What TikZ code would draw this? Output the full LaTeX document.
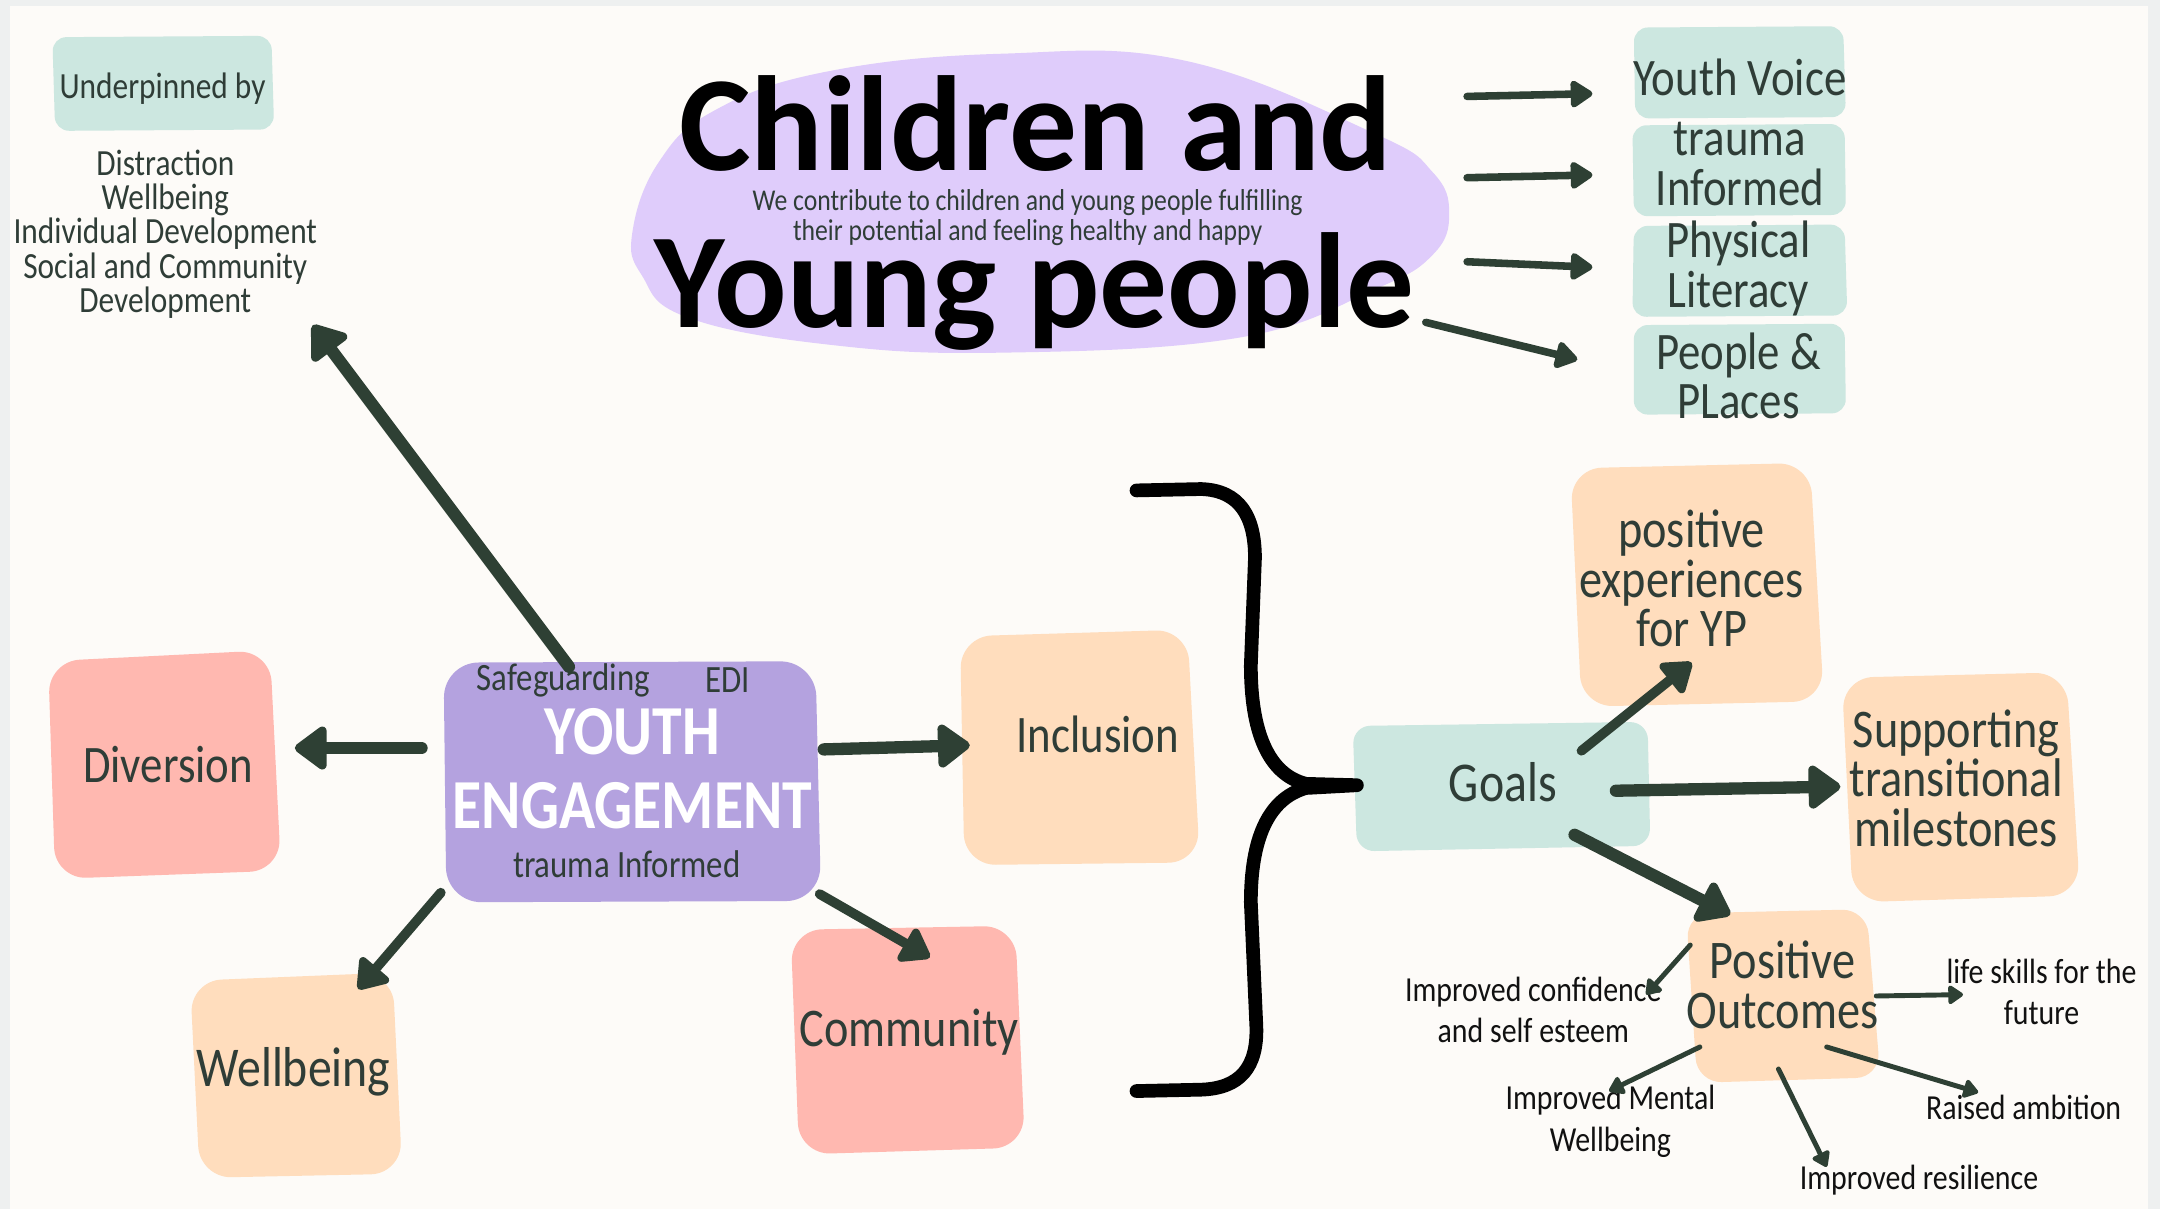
\documentclass[tikz,border=0pt]{standalone}
\usepackage{fontspec}
\usetikzlibrary{arrows.meta}
\setmainfont{Carlito}
\newfontfamily\hand[FakeStretch=0.85]{Carlito}
\newfontfamily\titlefont{Carlito}
\newcommand{\setfsz}[2]{\fontsize{#1}{#2}\selectfont}
\definecolor{bgc}{HTML}{FDFBF8}
\definecolor{edgec}{HTML}{EEF0F0}
\definecolor{tealc}{HTML}{CCE7E0}
\definecolor{lilac}{HTML}{DFCCFB}
\definecolor{purp}{HTML}{B4A2DF}
\definecolor{pinkc}{HTML}{FFB8B0}
\definecolor{peach}{HTML}{FFDDBD}
\definecolor{dk}{HTML}{2E4034}
\definecolor{ink}{HTML}{2F3D37}
\definecolor{blk}{HTML}{111111}
\tikzset{
  hnd/.style={text=ink, inner sep=0pt, align=center},
  lbl/.style={text=blk, inner sep=0pt, align=center, font=\hand\setfsz{10}{11.8}},
  boxtxt/.style={hnd, font=\hand\setfsz{15.5}{14.1}},
  coltxt/.style={hnd, font=\hand\setfsz{15}{14.1}},
  arrtop/.style={draw=dk, line width=2.15pt, -{Triangle[length=7pt,width=8.6pt,round]}},
  arrbig/.style={draw=dk, line width=3.5pt, -{Triangle[length=10pt,width=14pt,round]}},
  arrmid/.style={draw=dk, line width=2.75pt, -{Triangle[length=9pt,width=12pt,round]}},
  arrsm/.style={draw=dk, line width=1.4pt, -{Triangle[length=4.7pt,width=6pt,round]}},
}
\begin{document}
\begin{tikzpicture}[x=0.013776cm,y=-0.013776cm,line cap=round,line join=round]
\useasboundingbox (0,0) rectangle (1568,877.6);
\fill[edgec] (0,0) rectangle (1568,877.6);
\fill[bgc] (7,4) rectangle (1559,877.6);

% ---- shapes ----
\fill[tealc, rounded corners=4pt] (38,27) -- (197,26) -- (199,94) -- (40,95) -- cycle;
\fill[lilac] plot[smooth cycle, tension=0.7] coordinates {(459,169) (478,118) (519,80) (600,52) (727,39) (860,44) (998,97) (1040,125) (1052,155) (1040,185) (998,210) (900,245) (727,256) (600,250) (498,230) (466,200)};
\fill[tealc, rounded corners=4pt] (1186,20) -- (1338,19) -- (1340,85) -- (1187,86) -- cycle;
\fill[tealc, rounded corners=4pt] (1185,91) -- (1339,90) -- (1340,156) -- (1186,157) -- cycle;
\fill[tealc, rounded corners=4pt] (1186,164) -- (1339,163) -- (1341,229) -- (1185,230) -- cycle;
\fill[tealc, rounded corners=4pt] (1186,236) -- (1339,235) -- (1340,300) -- (1186,301) -- cycle;
\fill[purp, rounded corners=10pt] (322,481) -- (592,480) -- (596,654) -- (324,655) -- cycle;
\fill[pinkc, rounded corners=9pt] (35,480) -- (196,472) -- (204,632) -- (40,638) -- cycle;
\fill[peach, rounded corners=9pt] (697,462) -- (862,457) -- (871,626) -- (700,628) -- cycle;
\fill[peach, rounded corners=9pt] (138,712) -- (285,706) -- (292,852) -- (145,855) -- cycle;
\fill[pinkc, rounded corners=9pt] (574,675) -- (737,672) -- (744,833) -- (580,838) -- cycle;
\fill[tealc, rounded corners=5pt] (982,527) -- (1196,524) -- (1198,614) -- (985,618) -- cycle;
\fill[peach, rounded corners=9pt] (1140,340) -- (1314,336) -- (1324,509) -- (1148,513) -- cycle;
\fill[peach, rounded corners=9pt] (1337,492) -- (1500,488) -- (1510,650) -- (1345,655) -- cycle;
\fill[peach, rounded corners=7pt] (1224,663) -- (1355,660) -- (1365,782) -- (1232,786) -- cycle;

% ---- brace ----
\draw[black, line width=3.9pt] (825,356) -- (872,355) .. controls (900,356) and (911,375) .. (911,405)
  -- (908,483) .. controls (908,530) and (920,562) .. (948,569) -- (985,570) -- (948,572)
  .. controls (920,580) and (908,610) .. (908,655) -- (912,745)
  .. controls (913,775) and (900,790) .. (872,791) -- (825,792);

% ---- texts ----
\node[hnd, font=\hand\setfsz{10.5}{10}] (und) at (118,64) {Underpinned by};
\node[hnd, font=\hand\setfsz{10.5}{9.8}] (lst) at (120,170) {Distraction\\Wellbeing\\Individual Development\\Social and Community\\Development};
\node[text=black, inner sep=0pt, anchor=base, font=\titlefont\bfseries\setfsz{38.5}{40}] (t1) at (752,124) {Children and};
\node[text=black, inner sep=0pt, anchor=base, font=\titlefont\bfseries\setfsz{38.5}{40}] (t2) at (751,238) {Young people};
\node[hnd, font=\hand\setfsz{8.6}{7.4}] (sub) at (746,158) {We contribute to children and young people fulfilling\\their potential and feeling healthy and happy};
\node[coltxt] (yv) at (1263,56) {Youth Voice};
\node[coltxt] (ti) at (1263,119) {trauma\\Informed};
\node[coltxt] (pl) at (1262,195) {Physical\\Literacy};
\node[coltxt] (pp) at (1262,273) {People \&\\PLaces};

\node[hnd, text=white, font=\hand\bfseries\setfsz{20}{20.8}] (ye) at (459,558) {YOUTH\\ENGAGEMENT};
\node[hnd, font=\hand\setfsz{11}{11}] (sg) at (409,494) {Safeguarding};
\node[hnd, font=\hand\setfsz{11}{11}] (edi) at (528,494) {EDI};
\node[hnd, font=\hand\setfsz{11}{11}] (tri) at (455,627) {trauma Informed};

\node[boxtxt, font=\hand\setfsz{15}{14}] (div) at (122,555) {Diversion};
\node[boxtxt, font=\hand\setfsz{15}{14}] (inc) at (797,533) {Inclusion};
\node[boxtxt, font=\hand\setfsz{16}{14}] (wb) at (213,778) {Wellbeing};
\node[boxtxt] (com) at (660,749) {Community};
\node[boxtxt, font=\hand\setfsz{16}{14}] (goals) at (1091,568) {Goals};
\node[boxtxt] (pe) at (1228,420) {positive\\experiences\\for YP};
\node[boxtxt] (st) at (1420,565) {Supporting\\transitional\\milestones};
\node[boxtxt] (po) at (1294,715) {Positive\\Outcomes};

\node[lbl] (oc) at (1113,733) {Improved confidence\\and self esteem};
\node[lbl] (ls) at (1482,720) {life skills for the\\future};
\node[lbl] (mw) at (1169,814) {Improved Mental\\Wellbeing};
\node[lbl] (ra) at (1469,804) {Raised ambition};
\node[lbl] (rs) at (1393,857) {Improved resilience};

% ---- arrows ----
\draw[arrtop] ([shift={(313,-54)}]t1.base) -- ([shift={(-107,12)}]yv.center);
\draw[arrtop] ([shift={(313,5)}]t1.base) -- ([shift={(-107,8)}]ti.center);
\draw[arrtop] ([shift={(314,-48)}]t2.base) -- ([shift={(-106,-1)}]pl.center);
\draw[arrtop] ([shift={(284,-4)}]t2.base) -- ([shift={(-117,-12)}]pp.center);

\draw[arrbig] ([shift={(-153,-15)}]ye.center) -- ([shift={(92,-12)}]div.center);
\draw[arrbig] ([shift={(139,-14)}]ye.center) -- ([shift={(-93,8)}]inc.center);
\draw[arrmid] ([shift={(-139,90)}]ye.center) -- ([shift={(47,-60)}]wb.center);
\draw[arrmid] ([shift={(136,91)}]ye.center) -- ([shift={(15,-54)}]com.center);
\draw[arrbig] ([shift={(-46,-74)}]ye.center) -- ([shift={(107,66)}]lst.center);

\draw[arrmid] ([shift={(57,-23)}]goals.center) -- ([shift={(0,61)}]pe.center);
\draw[arrbig] ([shift={(82,6)}]goals.center) -- ([shift={(-84,6)}]st.center);
\draw[arrbig] ([shift={(52,38)}]goals.center) -- ([shift={(-38,-51)}]po.center);

\draw[arrsm] ([shift={(-67,-29)}]po.center) -- ([shift={(82,-11)}]oc.center);
\draw[arrsm] ([shift={(68,8)}]po.center) -- ([shift={(-57,2)}]ls.center);
\draw[arrsm] ([shift={(-60,45)}]po.center) -- ([shift={(-1,-22)}]mw.center);
\draw[arrsm] ([shift={(32,45)}]po.center) -- ([shift={(-33,-11)}]ra.center);
\draw[arrsm] ([shift={(-3,61)}]po.center) -- ([shift={(-67,-10)}]rs.center);
\end{tikzpicture}
\end{document}
